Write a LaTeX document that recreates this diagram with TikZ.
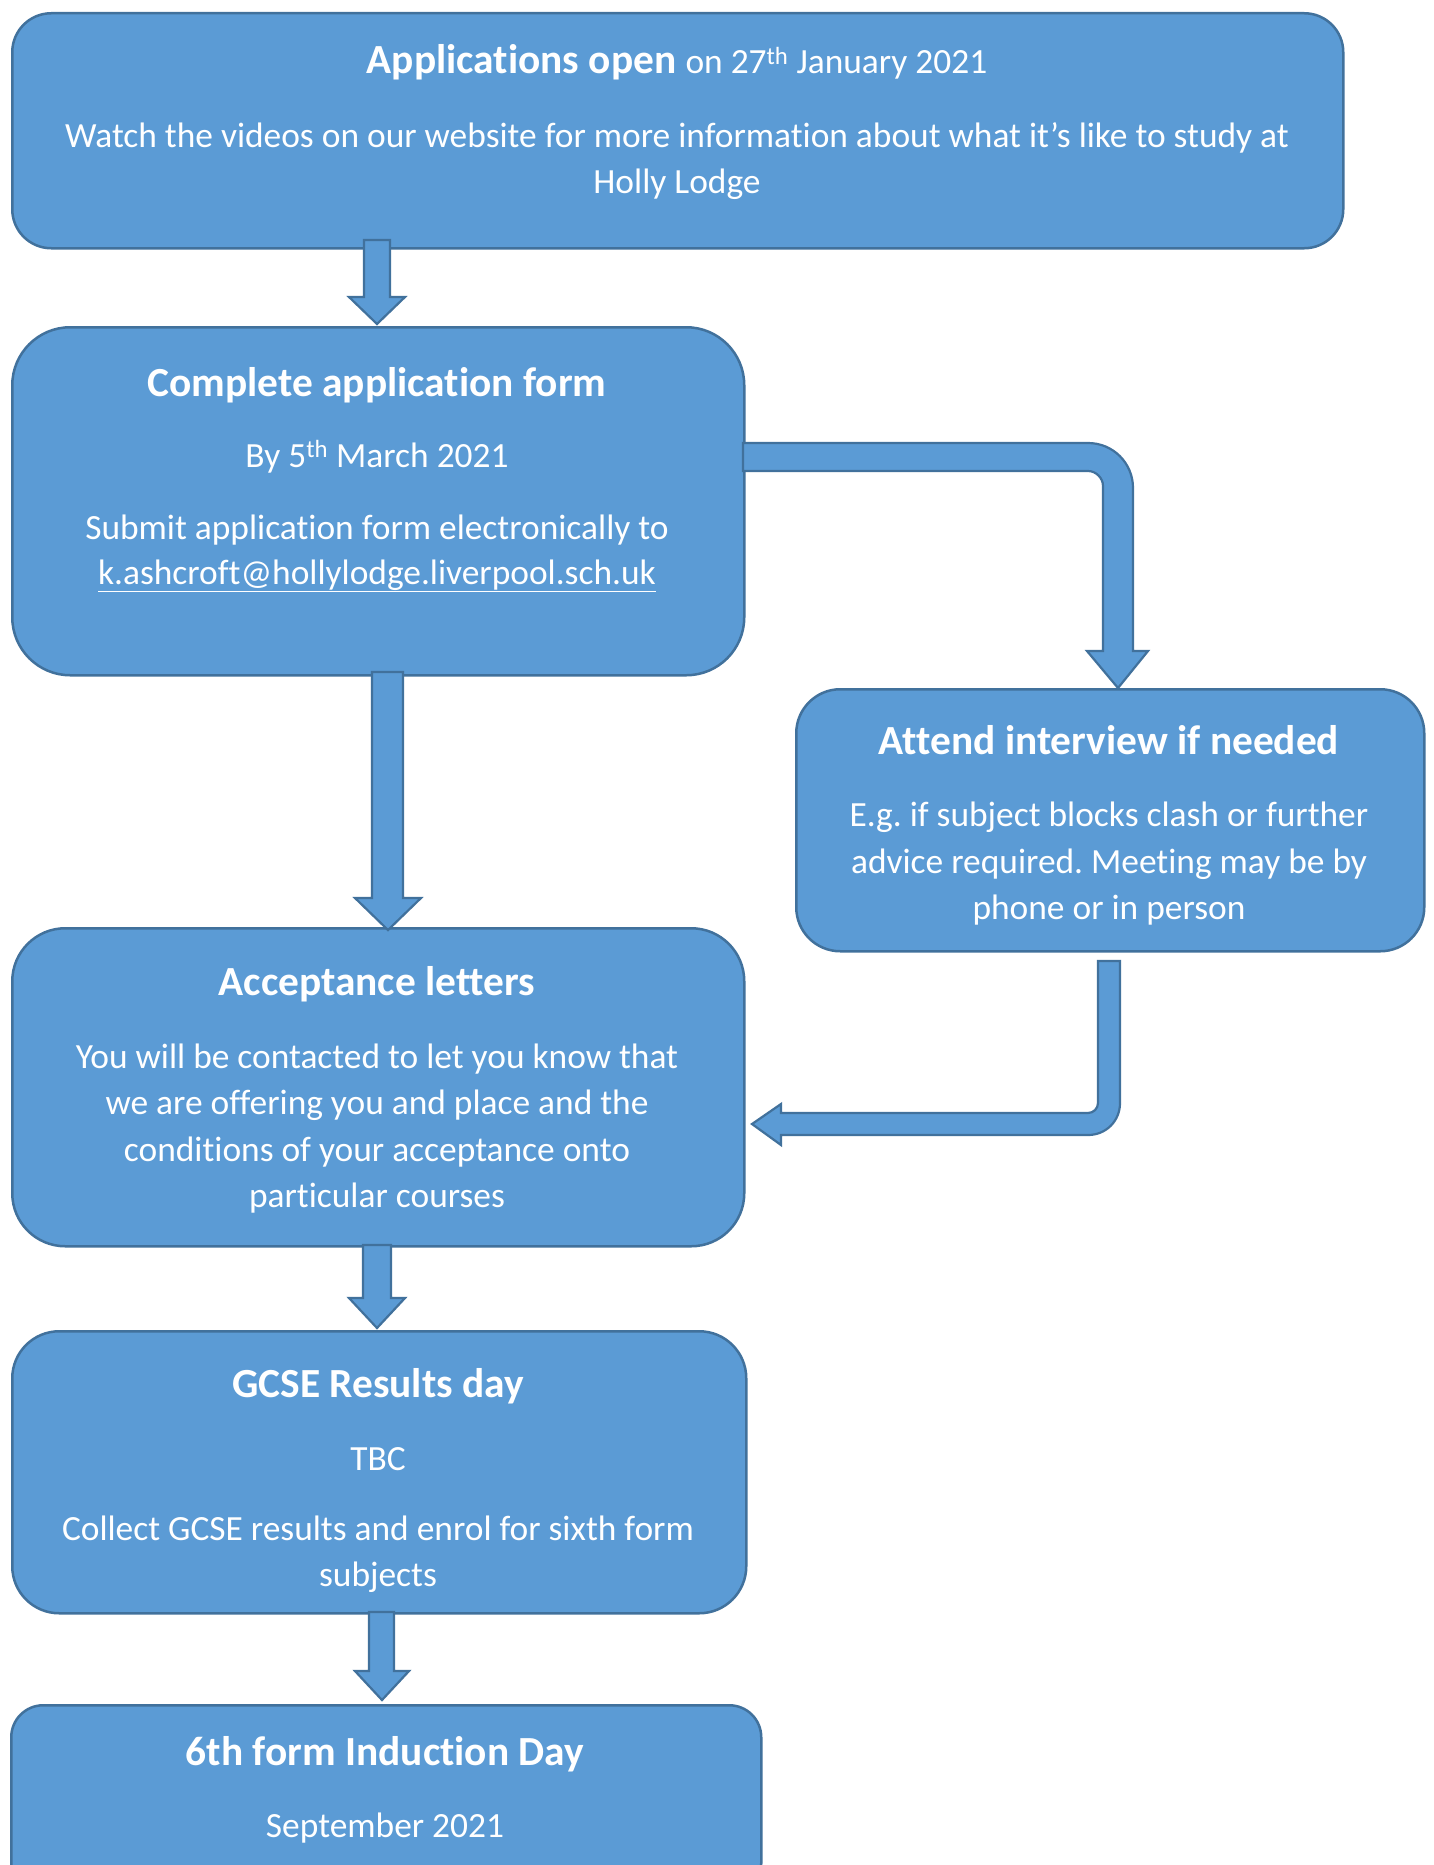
\documentclass[tikz,border=0pt]{standalone}
\usepackage{fontspec}
\setmainfont{Carlito}[Ligatures=NoCommon]
\definecolor{boxfill}{HTML}{5B9BD5}
\definecolor{boxline}{HTML}{41719C}
\tikzset{
 box/.style={draw=boxline, fill=boxfill, line width=2.5pt, anchor=north west, inner sep=0pt},
 blk/.style={draw=boxline, fill=boxfill, line width=2.2pt, line join=miter},
 ttl/.style={text=white, anchor=base, inner sep=0pt, font=\fontsize{41.4}{48}\selectfont\bfseries},
 txt/.style={text=white, anchor=base, inner sep=0pt, font=\fontsize{35.4}{42}\selectfont},
}
\frenchspacing
\begin{document}
\begin{tikzpicture}[x=1pt,y=-1pt]
\useasboundingbox (0,0) rectangle (1434,1865);
\fill[white] (0,0) rectangle (1434,1865);
% boxes
\node[box, rounded corners=39pt, minimum width=1331pt, minimum height=235pt] (b1) at (11,12) {};
\node[box, rounded corners=58pt, minimum width=732pt, minimum height=348pt] (b2) at (11,326) {};
\node[box, rounded corners=44pt, minimum width=628pt, minimum height=262pt] (b3) at (795,688) {};
\node[box, rounded corners=53pt, minimum width=732pt, minimum height=318pt] (b4) at (11,927) {};
\node[box, rounded corners=47pt, minimum width=734pt, minimum height=282pt] (b5) at (11,1330) {};
\node[box, rounded corners=32pt, minimum width=750pt, minimum height=190pt] (b6) at (10,1704) {};
% straight block arrows
\draw[blk] (364,240) -- (390,240) -- (390,297) -- (405,297) -- (377,324) -- (349,297) -- (364,297) -- cycle;
\draw[blk] (372,672) -- (403,672) -- (403,898) -- (421,898) -- (388,930) -- (355,898) -- (372,898) -- cycle;
\draw[blk] (363,1245) -- (391,1245) -- (391,1298) -- (405,1298) -- (377,1328) -- (349,1298) -- (363,1298) -- cycle;
\draw[blk] (369,1612) -- (394,1612) -- (394,1671) -- (409,1671) -- (382,1700) -- (355,1671) -- (369,1671) -- cycle;
% bent arrow box2 -> box3
\draw[blk] (743,443) -- (1088,443) .. controls (1113,443) and (1133,463) .. (1133,488)
  -- (1133,651) -- (1148,651) -- (1118,688) -- (1087,651) -- (1103,651) -- (1103,486)
  .. controls (1103,478) and (1096,471) .. (1088,471) -- (743,471) -- cycle;
% bent arrow box3 -> box4
\draw[blk] (1098,961) -- (1120,961) -- (1120,1103) .. controls (1120,1121) and (1106,1135) .. (1088,1135)
  -- (781,1135) -- (781,1145) -- (752,1124) -- (781,1104) -- (781,1113) -- (1088,1113)
  .. controls (1093.5,1113) and (1098,1108.5) .. (1098,1103) -- cycle;
% texts box1
\node[ttl] (t1) at (677,74) {Applications open {\mdseries\fontsize{35.4}{42}\selectfont on 27\textsuperscript{th} January 2021}};
\node[txt] (t1a) at (677,147) {Watch the videos on our website for more information about what it’s like to study at};
\node[txt] (t1b) at (677,193) {Holly Lodge};
% box2
\node[ttl] (t2) at (377,396) {Complete application form};
\node[txt] (t2a) at (377,467) {By 5\textsuperscript{th} March 2021};
\node[txt] (t2b) at (377,539) {Submit application form electronically to};
\node[txt] (t2c) at (377,584) {\underline{k.ashcroft@hollylodge.liverpool.sch.uk}};
% box3
\node[ttl] (t3) at (1109,754) {Attend interview if needed};
\node[txt] (t3a) at (1109,826) {E.g. if subject blocks clash or further};
\node[txt] (t3b) at (1109,873) {advice required. Meeting may be by};
\node[txt] (t3c) at (1109,919) {phone or in person};
% box4
\node[ttl] (t4) at (377,995) {Acceptance letters};
\node[txt] (t4a) at (377,1068) {You will be contacted to let you know that};
\node[txt] (t4b) at (377,1114) {we are offering you and place and the};
\node[txt] (t4c) at (377,1161) {conditions of your acceptance onto};
\node[txt] (t4d) at (377,1207) {particular courses};
% box5
\node[ttl] (t5) at (378,1397) {GCSE Results day};
\node[txt] (t5a) at (378,1470) {TBC};
\node[txt] (t5b) at (378,1540) {Collect GCSE results and enrol for sixth form};
\node[txt] (t5c) at (378,1586) {subjects};
% box6
\node[ttl] (t6) at (385,1765) {6th form Induction Day};
\node[txt] (t6a) at (385,1837) {September 2021};
\end{tikzpicture}
\end{document}
